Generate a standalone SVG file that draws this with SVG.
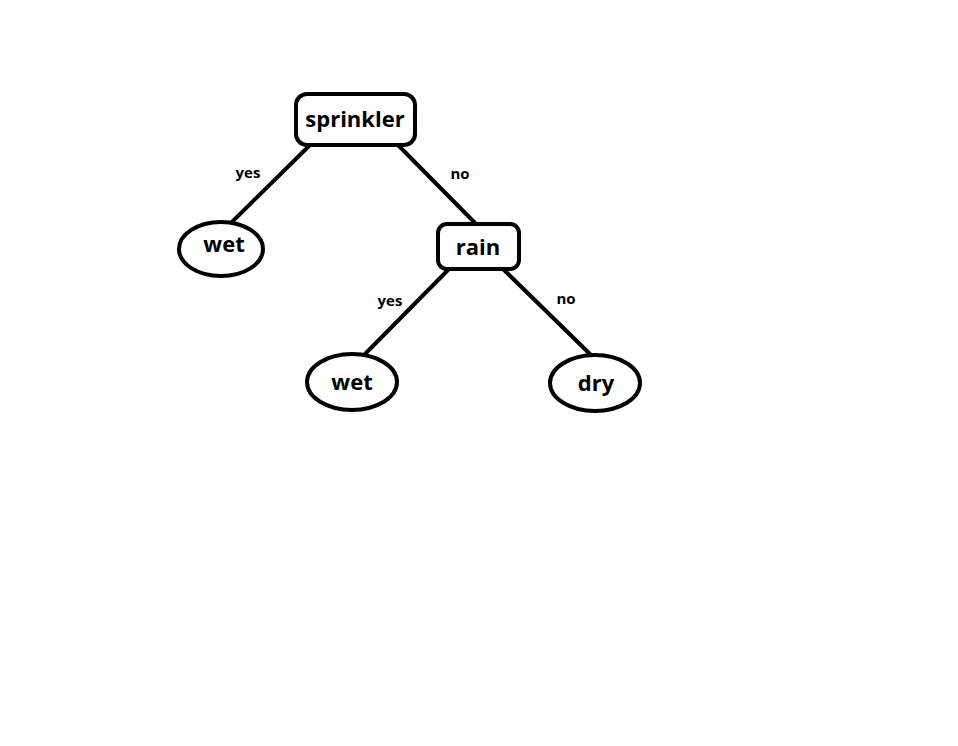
<svg xmlns="http://www.w3.org/2000/svg" width="958" height="746" viewBox="0 0 958 746">
  <style>
    .shape { fill: #fff; stroke: #000; stroke-width: 4; }
    .edge { stroke: #000; stroke-width: 4; stroke-linecap: round; fill: none; }
    .name { font-family: "Open Sans", "Noto Sans", "DejaVu Sans", sans-serif; font-weight: bold; font-size: 22px; fill: #000; text-anchor: middle; dominant-baseline: central; }
    .lbl { font-family: "Open Sans", "Noto Sans", "DejaVu Sans", sans-serif; font-weight: bold; font-size: 15px; fill: #000; text-anchor: middle; dominant-baseline: central; }
  </style>
  <rect width="958" height="746" fill="#fff"/>

  <!-- connectors with their answer labels -->
  <g id="connectors">
    <line class="edge" x1="310" y1="145" x2="232" y2="222"/>
    <line class="edge" x1="398" y1="145" x2="476" y2="224"/>
    <line class="edge" x1="449" y1="269" x2="365" y2="354"/>
    <line class="edge" x1="503" y1="269" x2="590" y2="354"/>
    <text class="lbl" x="248" y="172">yes</text>
    <text class="lbl" x="460" y="173">no</text>
    <text class="lbl" x="390" y="300">yes</text>
    <text class="lbl" x="566" y="298">no</text>
  </g>

  <g id="sprinkler">
    <rect class="shape" x="296" y="94" width="119" height="51" rx="11"/>
    <text class="name" x="355" y="118">sprinkler</text>
  </g>

  <g id="wet-left">
    <ellipse class="shape" cx="221" cy="249" rx="42" ry="27"/>
    <text class="name" x="224" y="243">wet</text>
  </g>

  <g id="rain">
    <rect class="shape" x="438" y="224" width="81" height="45" rx="9"/>
    <text class="name" x="478" y="246">rain</text>
  </g>

  <g id="wet-right">
    <ellipse class="shape" cx="352" cy="382" rx="45" ry="28"/>
    <text class="name" x="352" y="381">wet</text>
  </g>

  <g id="dry">
    <ellipse class="shape" cx="595" cy="383" rx="45" ry="28"/>
    <text class="name" x="596" y="382">dry</text>
  </g>
</svg>
